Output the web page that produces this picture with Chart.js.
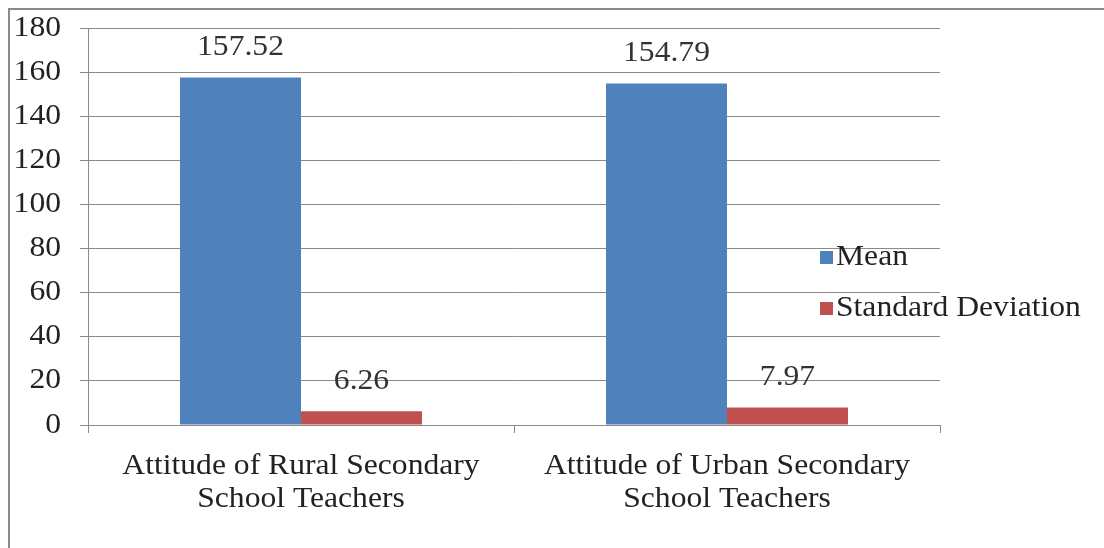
<!DOCTYPE html>
<html>
<head>
<meta charset="utf-8">
<style>
  html, body { margin: 0; padding: 0; background: #fff; }
  #wrap { position: relative; width: 1104px; height: 548px; overflow: hidden; }
  #frame { position: absolute; left: 8px; top: 8px; width: 1110px; height: 560px;
           border-top: 2px solid #8a8a8a; border-left: 2px solid #8a8a8a; box-sizing: border-box; }
  canvas { position: absolute; left: 0; top: 0; }
</style>
<script src="https://cdn.jsdelivr.net/npm/chart.js@4.4.2/dist/chart.umd.min.js"></script>
</head>
<body>
<div id="wrap">
  <div id="frame"></div>
  <canvas id="chart" width="1104" height="548"></canvas>
</div>
<script>
// ---------- DATA ----------
const categories = [
  ["Attitude of Rural Secondary", "School Teachers"],
  ["Attitude of Urban Secondary", "School Teachers"]
];
const meanValues = [157.52, 154.79];
const sdValues   = [6.26, 7.97];
const seriesNames = ["Mean", "Standard Deviation"];
const seriesColors = ["#4F81BD", "#C0504D"];

const SERIF = "'Liberation Serif', 'DejaVu Serif', serif";
const FONT = "29px " + SERIF;
const STRETCH = 1.09;   // the original picture is a bit wider than tall

// draws text widened sideways, like the source image
function stretchText(ctx, text, x, y, align) {
  ctx.save();
  ctx.translate(x, y);
  ctx.scale(STRETCH, 1);
  ctx.textAlign = align;
  ctx.fillText(text, 0, 0);
  ctx.restore();
}

// all the chart's text, drawn by hand so it can be stretched
const textLayer = {
  id: "textLayer",
  afterDraw(chart) {
    const ctx = chart.ctx;
    ctx.save();
    ctx.font = FONT;
    ctx.textBaseline = "middle";
    ctx.fillStyle = "#222";

    // y tick labels
    const y = chart.scales.y;
    y.ticks.forEach(t => {
      stretchText(ctx, String(t.value), 61, y.getPixelForValue(t.value), "right");
    });

    // category labels
    const x = chart.scales.x;
    chart.data.labels.forEach((lines, i) => {
      const cx = x.getPixelForValue(i);
      lines.forEach((line, k) => {
        stretchText(ctx, line, cx, 466 + k * 33, "center");
      });
    });

    // value labels above bars
    ctx.fillStyle = "#333";
    chart.data.datasets.forEach((ds, i) => {
      chart.getDatasetMeta(i).data.forEach((bar, j) => {
        stretchText(ctx, ds.data[j].toFixed(2), bar.x, bar.y - 30, "center");
      });
    });

    // legend over the right part of the plot
    chart.data.datasets.forEach((ds, i) => {
      const ly = 257 + i * 51;
      ctx.fillStyle = ds.backgroundColor;
      ctx.fillRect(820, ly - 6, 13, 13);
      ctx.fillStyle = "#222";
      stretchText(ctx, ds.label, 836, ly, "left");
    });
    ctx.restore();
  }
};

new Chart(document.getElementById("chart"), {
  type: "bar",
  data: {
    labels: categories,
    datasets: [
      { label: seriesNames[0], data: meanValues, backgroundColor: seriesColors[0] },
      { label: seriesNames[1], data: sdValues,   backgroundColor: seriesColors[1] }
    ]
  },
  options: {
    responsive: false,
    animation: false,
    devicePixelRatio: 1,
    layout: { padding: { top: 28, right: 164, left: 0, bottom: 0 } },
    datasets: { bar: { categoryPercentage: 0.568, barPercentage: 1.0 } },
    plugins: { legend: { display: false }, tooltip: { enabled: false } },
    scales: {
      x: {
        afterFit: s => { s.height = 123; },
        grid: { drawOnChartArea: false, drawTicks: true, tickLength: 8, offset: true, color: "#8a8a8a" },
        border: { color: "#8a8a8a" },
        ticks: { display: false }
      },
      y: {
        min: 0, max: 180,
        afterFit: s => { s.width = 88; },
        grid: { color: "#8a8a8a", tickLength: 8 },
        border: { color: "#8a8a8a" },
        ticks: { stepSize: 20, display: false }
      }
    }
  },
  plugins: [textLayer]
});
</script>
</body>
</html>
